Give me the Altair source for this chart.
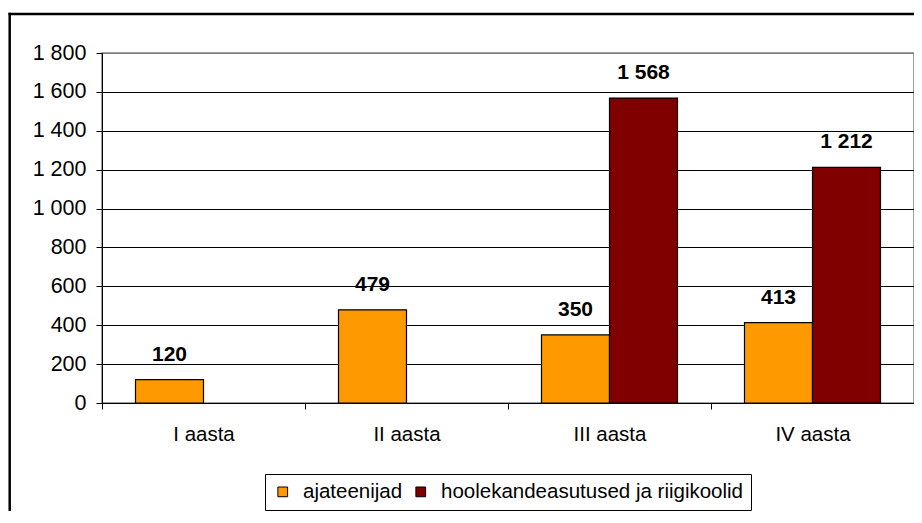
import altair as alt
import pandas as pd

categories = ["I aasta", "II aasta", "III aasta", "IV aasta"]
series = ["ajateenijad", "hoolekandeasutused ja riigikoolid"]
ajateenijad = [120, 479, 350, 413]
hoolekande = [None, None, 1568, 1212]
colors = ["#FF9900", "#800000"]
y_ticks = [0, 200, 400, 600, 800, 1000, 1200, 1400, 1600, 1800]

rows = []
for c, a, h in zip(categories, ajateenijad, hoolekande):
    rows.append({"aasta": c, "grupp": series[0], "vaartus": a})
    if h is not None:
        rows.append({"aasta": c, "grupp": series[1], "vaartus": h})
df = pd.DataFrame(rows)

W, H = 812, 350
FONT = "Liberation Sans"

x_enc = alt.X(
    "aasta:N",
    sort=categories,
    scale=alt.Scale(paddingInner=0, paddingOuter=0),
    axis=alt.Axis(
        title=None, labelAngle=0, tickBand="extent", tickSize=6,
        tickColor="black", domainColor="black", labelColor="black",
        labelFontSize=20.5, labelPadding=15, grid=False, labelFont=FONT,
    ),
)
xo_enc = alt.XOffset(
    "grupp:N", sort=series,
    scale=alt.Scale(domain=series, paddingInner=0, paddingOuter=0.4926),
)
y_enc = alt.Y(
    "vaartus:Q",
    scale=alt.Scale(domain=[0, 1800], nice=False, zero=True),
    axis=alt.Axis(
        title=None, values=y_ticks, tickSize=6, tickColor="black",
        domainColor="black", labelColor="black", labelFontSize=21.5,
        labelPadding=10, labelFont=FONT, labelOverlap=False,
        labelExpr="replace(format(datum.value, ','), ',', ' ')",
        grid=True,
        gridColor=alt.condition("datum.value >= 1800", alt.value("#808080"), alt.value("black")),
        gridWidth=1,
    ),
)

base = alt.Chart(df).encode(x=x_enc, xOffset=xo_enc, y=y_enc)

bars = base.mark_bar(stroke="black", strokeWidth=1.2).encode(
    color=alt.Color(
        "grupp:N",
        sort=series,
        scale=alt.Scale(domain=series, range=colors),
        legend=alt.Legend(
            title=None, orient="none", legendX=163, legendY=H + 71,
            direction="horizontal", columns=2,
            strokeColor="black", padding=7.5,
            labelFontSize=20.5, labelFont=FONT, labelColor="black",
            labelLimit=0,
            symbolType="square", symbolSize=95,
            symbolStrokeColor="black", symbolStrokeWidth=1,
            labelOffset=10, columnPadding=8, symbolOpacity=1,
        ),
    ),
)

labels = base.mark_text(
    fontSize=21, fontWeight="bold", font=FONT, color="black",
    baseline="alphabetic", dy=-19,
).transform_calculate(
    silt="replace(format(datum.vaartus, ','), ',', ' ')"
).encode(
    text="silt:N",
)

one = pd.DataFrame({"k": [0]})
border_left = alt.Chart(one).mark_rule(color="black", strokeWidth=2.5).encode(
    x=alt.value(-92.3), y=alt.value(-40.2), y2=alt.value(H + 130)
)
border_top = alt.Chart(one).mark_rule(color="black", strokeWidth=2.5).encode(
    x=alt.value(-93.5), x2=alt.value(W + 20), y=alt.value(-39)
)

chart = alt.layer(bars, labels, border_left, border_top).properties(
    width=W, height=H,
    autosize=alt.AutoSizeParams(type="none"),
    padding={"left": 94, "top": 45, "right": 0, "bottom": 108},
).configure(font=FONT).configure_view(stroke="#808080", strokeWidth=1.5)

chart.save("out.html", embed_options={"renderer": "svg", "actions": False})
